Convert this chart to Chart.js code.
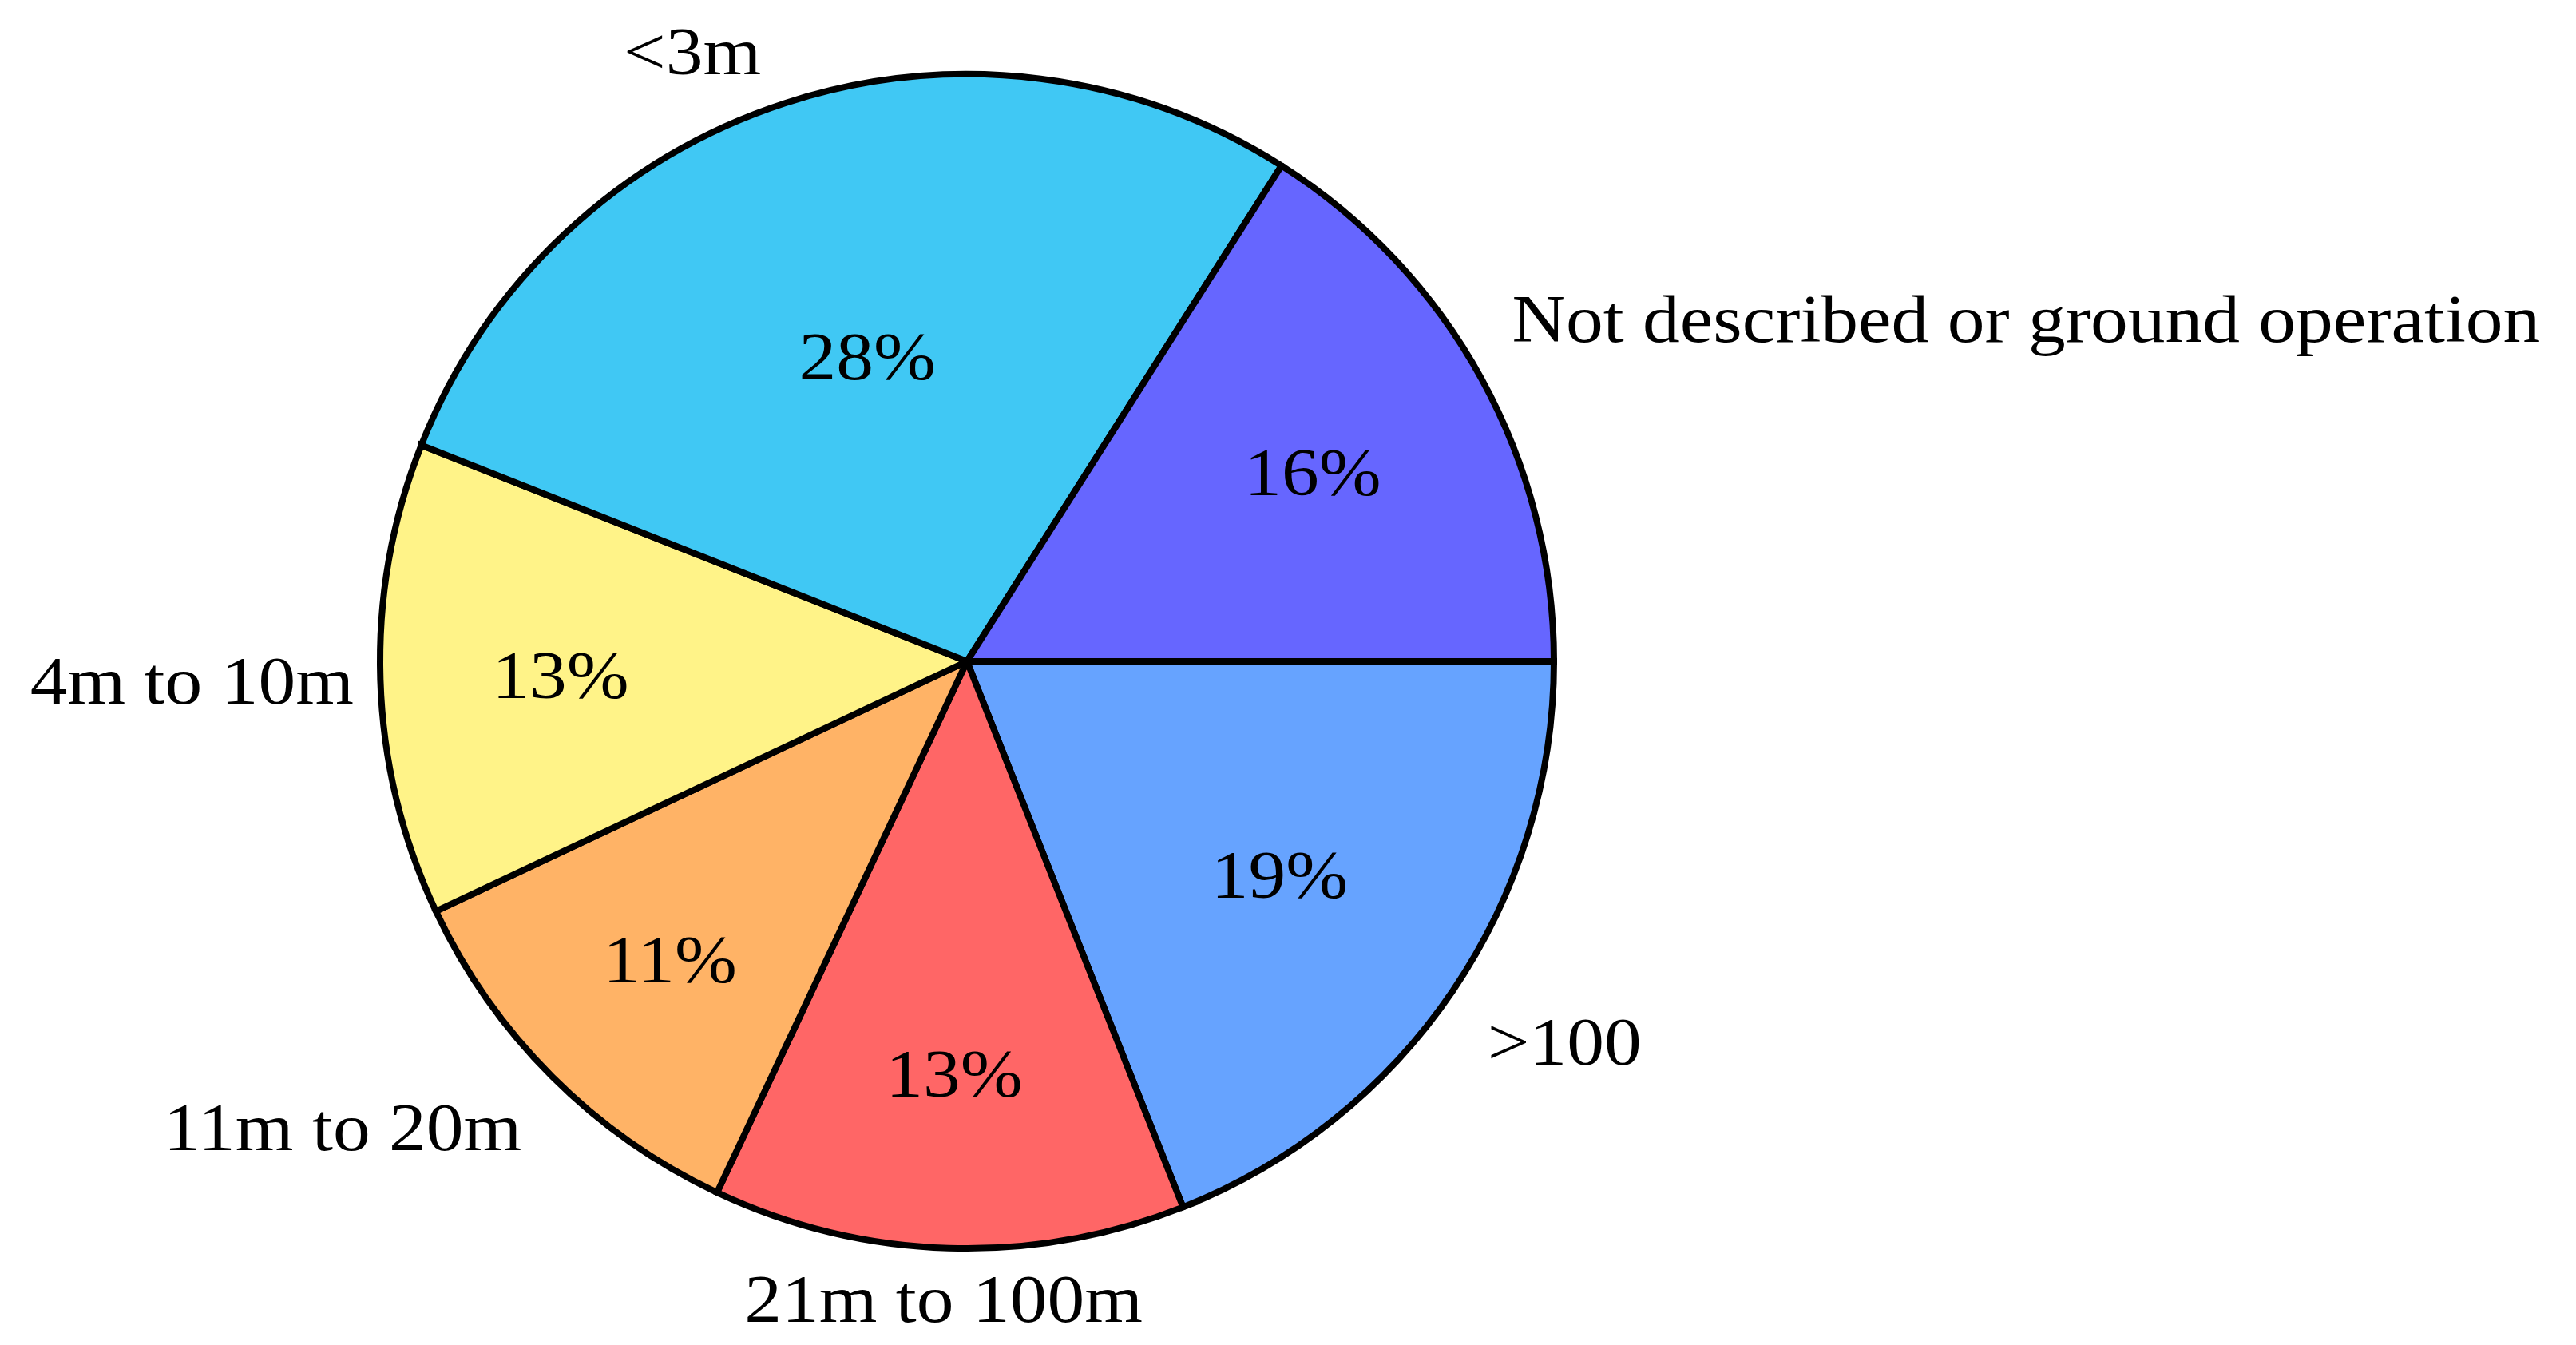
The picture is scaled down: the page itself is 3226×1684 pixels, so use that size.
<!DOCTYPE html>
<html>
<head>
<meta charset="utf-8">
<script src="https://cdn.jsdelivr.net/npm/chart.js@4/dist/chart.umd.min.js"></script>
<style>
  html, body { margin: 0; padding: 0; background: #ffffff; }
  #wrap { width: 3226px; height: 1684px; }
</style>
</head>
<body>
<div id="wrap"><canvas id="c" width="3226" height="1684"></canvas></div>
<script>
// ---- data (matplotlib order: counter-clockwise from 3 o'clock) ----
const categories = ["Not described or ground operation", "<3m", "4m to 10m", "11m to 20m", "21m to 100m", ">100"];
const shares = [16, 28, 13, 11, 13, 19];
const sliceColors = ["#6666FF", "#40C8F4", "#FFF388", "#FFB366", "#FF6666", "#66A3FF"];

// ---- label styling ----
const pctDistance = [0.672, 0.549, 0.693, 0.716, 0.70, 0.644];
const labelDistance = 1.1;
const labelNudge = [[-26, -41], [-8, 4], [40, -3], [14, 10], [-4, -11], [-17, 20]];
const TEXT_SHIFT_Y = 8;
const FONT = '85px "Liberation Serif", "Times New Roman", serif';
const TEXT_STRETCH = 1.1;

const total = shares.reduce((a, b) => a + b, 0);
const pctText = shares.map(v => Math.round(v / total * 100) + "%");

// Chart.js draws clockwise; reverse so the slices run counter-clockwise like the reference
const chartLabels = categories.slice().reverse();
const chartData = shares.slice().reverse();
const chartColors = sliceColors.slice().reverse();

function drawText(ctx, text, x, y, align) {
  ctx.save();
  ctx.translate(x, y + TEXT_SHIFT_Y);
  ctx.scale(TEXT_STRETCH, 1);
  ctx.font = FONT;
  ctx.fillStyle = "#000000";
  ctx.textAlign = align;
  ctx.textBaseline = "middle";
  ctx.fillText(text, 0, 0);
  ctx.restore();
}

const labelPlugin = {
  id: "pieLabels",
  afterDatasetsDraw(chart) {
    const ctx = chart.ctx;
    const meta = chart.getDatasetMeta(0);
    const n = categories.length;
    meta.data.forEach((arc, j) => {
      const i = n - 1 - j;
      const p = arc.getProps(["x", "y", "startAngle", "endAngle", "outerRadius"], true);
      const mid = (p.startAngle + p.endAngle) / 2;
      const c = Math.cos(mid), s = Math.sin(mid);
      // percentage inside
      drawText(ctx, pctText[i],
        p.x + c * p.outerRadius * pctDistance[i],
        p.y + s * p.outerRadius * pctDistance[i], "center");
      // category outside
      const lx = p.x + c * p.outerRadius * labelDistance + labelNudge[i][0];
      const ly = p.y + s * p.outerRadius * labelDistance + labelNudge[i][1];
      const align = c > 0.2 ? "left" : (c < -0.2 ? "right" : "center");
      drawText(ctx, categories[i], lx, ly, align);
    });
  }
};

new Chart(document.getElementById("c"), {
  type: "pie",
  data: {
    labels: chartLabels,
    datasets: [{
      data: chartData,
      backgroundColor: chartColors,
      borderColor: "#000000",
      borderWidth: 8,
      borderJoinStyle: "miter",
      hoverOffset: 0
    }]
  },
  options: {
    responsive: false,
    animation: false,
    devicePixelRatio: 1,
    rotation: 90,
    radius: 735,
    layout: { padding: { left: 476, top: 93, right: 1280, bottom: 121 } },
    events: [],
    plugins: {
      legend: { display: false },
      tooltip: { enabled: false },
      title: { display: false }
    }
  },
  plugins: [labelPlugin]
});
</script>
</body>
</html>
